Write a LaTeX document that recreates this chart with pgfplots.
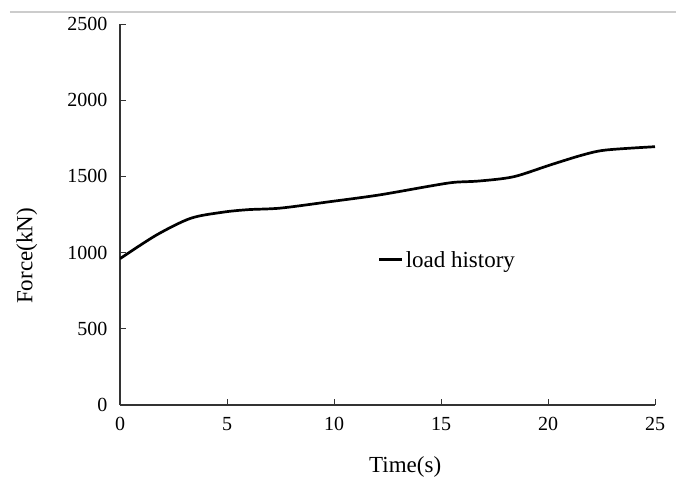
\documentclass[border=0pt]{standalone}
\usepackage{fontspec}
\setmainfont{Liberation Serif}
\usepackage{pgfplots}
\pgfplotsset{compat=1.18}
\begin{document}
\begin{tikzpicture}
\begin{axis}[
  at={(0,0)}, anchor=south west,
  scale only axis, width=535pt, height=381pt,
  xmin=0, xmax=25, ymin=0, ymax=2500,
  axis lines=left, axis line style={-, line width=1.3pt, color=black!80},
  xtick={0,5,...,25}, ytick={0,500,...,2500},
  tick align=inside, major tick length=6pt,
  tick style={line width=1pt, color=black!80},
  /pgf/number format/assume math mode=true,
  /pgf/number format/1000 sep={},
  tick label style={font=\fontsize{20}{22}\selectfont},
  xticklabel style={yshift=-9pt},
  yticklabel style={xshift=-9pt},
  xlabel={Time(s)}, ylabel={Force(kN)},
  label style={font=\fontsize{23}{26}\selectfont},
  xlabel style={at={(axis description cs:0.533,-0.163)}, anchor=center},
  ylabel style={at={(axis description cs:-0.174,0.391)}, anchor=center},
  legend style={draw=none, fill=none, at={(axis description cs:0.482,0.381)}, anchor=west,
    font=\fontsize{23}{26}\selectfont, inner sep=0pt},
  legend image code/.code={\draw[#1] (0pt,0pt) -- (23pt,0pt);},
]
\addplot[black, line width=2.7pt, smooth] coordinates {
(0,960) (1.7,1115) (3.3,1225) (4.8,1265) (6,1282) (7.5,1292) (9.8,1334)
(12.1,1378) (14.5,1437) (15.6,1461) (16.8,1470) (18.4,1498) (20.1,1575)
(21.6,1640) (22.7,1673) (25,1695)
};
\addlegendentry{load history}
\end{axis}
\draw[black!20, line width=1.5pt] (-110pt,393pt) -- (556pt,393pt);
\pgfresetboundingbox
\useasboundingbox (-120pt,-86pt) rectangle (556pt,405pt);
\end{tikzpicture}
\end{document}
